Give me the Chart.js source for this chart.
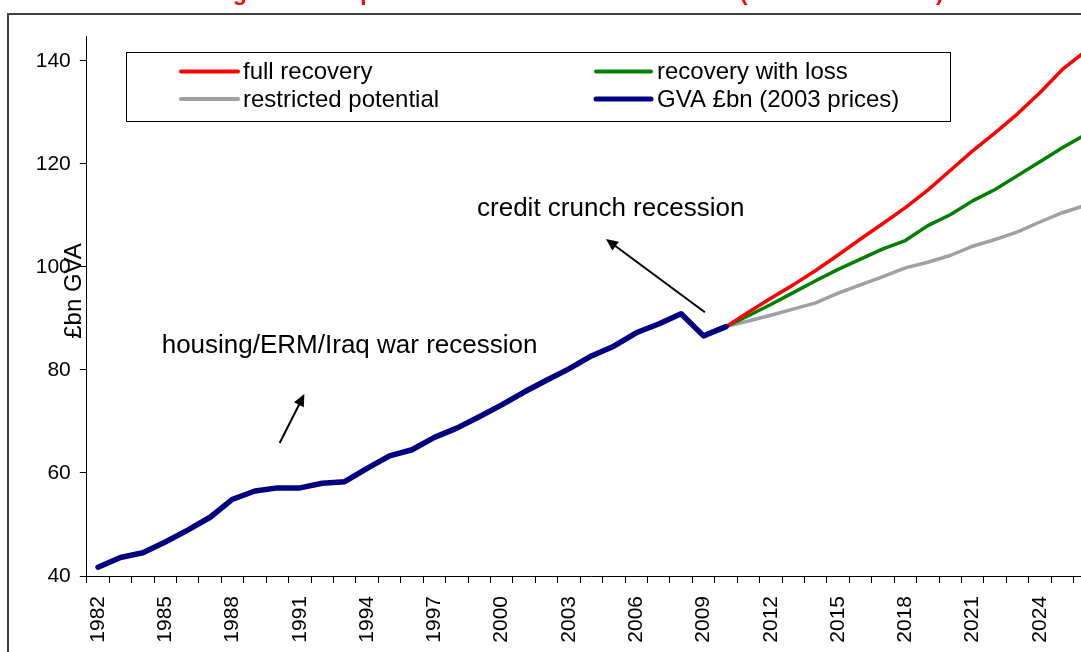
<!DOCTYPE html>
<html><head><meta charset="utf-8">
<script src="https://cdn.jsdelivr.net/npm/chart.js@4.4.1/dist/chart.umd.min.js"></script>
<style>
html,body{margin:0;padding:0;background:#fff;overflow:hidden;width:1081px;height:652px}
#wrap{position:absolute;left:0;top:0;width:1120px;height:652px}
</style></head><body><div id="wrap"><canvas id="c" width="1120" height="652"></canvas></div>
<script>
// ---------- data ----------
const years = [1982,1983,1984,1985,1986,1987,1988,1989,1990,1991,1992,1993,1994,1995,1996,1997,1998,1999,2000,2001,2002,2003,2004,2005,2006,2007,2008,2009,2010,2011,2012,2013,2014,2015,2016,2017,2018,2019,2020,2021,2022,2023,2024,2025,2026];
const gvaActual = [41.7,43.6,44.5,46.6,48.9,51.4,54.9,56.5,57.1,57.1,58.0,58.3,60.9,63.3,64.5,66.9,68.7,70.9,73.2,75.7,78.0,80.2,82.7,84.6,87.2,88.9,90.9,86.6,88.4,
  null,null,null,null,null,null,null,null,null,null,null,null,null,null,null,null];
const fullRecovery = [null,null,null,null,null,null,null,null,null,null,null,null,null,null,null,null,null,null,null,null,null,null,null,null,null,null,null,null,
  88.4,91.2,93.9,96.5,99.3,102.3,105.4,108.4,111.5,114.9,118.7,122.5,126.0,129.7,133.8,138.3,141.7];
const recoveryWithLoss = [null,null,null,null,null,null,null,null,null,null,null,null,null,null,null,null,null,null,null,null,null,null,null,null,null,null,null,null,
  88.4,90.5,92.7,95.0,97.3,99.5,101.5,103.5,105.1,108.0,110.1,112.8,115.0,117.7,120.4,123.1,125.6];
const restrictedPotential = [null,null,null,null,null,null,null,null,null,null,null,null,null,null,null,null,null,null,null,null,null,null,null,null,null,null,null,null,
  88.4,89.5,90.6,91.8,93.0,94.9,96.5,98.1,99.8,100.9,102.2,104.0,105.3,106.8,108.7,110.5,111.9];
const yTicks = [40,60,80,100,120,140];
const seriesLabels = ['GVA £bn (2003 prices)','full recovery','recovery with loss','restricted potential'];
const titleText = 'Economic growth and potential after the recent recession (scenarios to 2026)';
const yAxisTitle = '£bn GVA';
const noteCredit = 'credit crunch recession';
const noteHousing = 'housing/ERM/Iraq war recession';

// ---------- styling / layout ----------
const FONT = '"Liberation Sans", Arial, sans-serif';
const cfgNotes = [
  {text: noteCredit, year: 1998.9, value: 109.8, arrow: {from:[2009.06, 91.2], to:[2004.65, 105.4]}},
  {text: noteHousing, year: 1984.84, value: 83.3, arrow: {from:[1990.1, 65.8], to:[1991.2, 75.3]}}
];
const legendLayout = {
  box: [126.5, 52.5, 824, 69],
  items: [ // dataset index, line x0, line x1, text x, y
    {ds:1, x0:181, x1:238, tx:243, y:71.5},
    {ds:2, x0:596, x1:651, tx:657, y:71.5},
    {ds:3, x0:181, x1:238, tx:243, y:99},
    {ds:0, x0:596, x1:651, tx:657, y:99}
  ]
};

const decorPlugin = {
  id: 'decor',
  beforeDraw(chart) {
    const ctx = chart.ctx;
    ctx.save();
    ctx.fillStyle = '#fff';
    ctx.fillRect(0, 0, chart.width, chart.height);
    // outer frame
    ctx.strokeStyle = '#404040';
    ctx.lineWidth = 2;
    ctx.beginPath();
    ctx.moveTo(8, chart.height + 5);
    ctx.lineTo(8, 14);
    ctx.lineTo(chart.width + 5, 14);
    ctx.stroke();
    // title (mostly cut off at top)
    let fs = 21;
    ctx.font = 'bold ' + fs + 'px ' + FONT;
    const gi = titleText.indexOf('growth');
    const pi = titleText.indexOf('(');
    const span = ctx.measureText(titleText.slice(gi, pi)).width;
    fs = fs * (741 - 234) / span;
    ctx.font = 'bold ' + fs.toFixed(2) + 'px ' + FONT;
    const pre = ctx.measureText(titleText.slice(0, gi)).width;
    ctx.fillStyle = '#ff0000';
    ctx.textBaseline = 'alphabetic';
    ctx.textAlign = 'left';
    ctx.fillText(titleText, 233 - pre, -0.5);
    ctx.restore();
  },
  afterDatasetsDraw(chart) {
    const ctx = chart.ctx;
    const xs = chart.scales.x, ys = chart.scales.y;
    const px = (yr) => xs.getPixelForValue(yr - years[0]);
    const py = (v) => ys.getPixelForValue(v);
    ctx.save();
    // annotations
    ctx.fillStyle = '#000';
    ctx.font = '26px ' + FONT;
    ctx.textAlign = 'left';
    ctx.textBaseline = 'alphabetic';
    cfgNotes.forEach(n => {
      ctx.fillText(n.text, px(n.year), py(n.value));
      const x0 = px(n.arrow.from[0]), y0 = py(n.arrow.from[1]);
      const x1 = px(n.arrow.to[0]), y1 = py(n.arrow.to[1]);
      const ang = Math.atan2(y1 - y0, x1 - x0);
      const hl = 12, hw = 5.5;
      ctx.strokeStyle = '#000';
      ctx.lineWidth = 2;
      ctx.beginPath();
      ctx.moveTo(x0, y0);
      ctx.lineTo(x1 - Math.cos(ang) * hl * 0.8, y1 - Math.sin(ang) * hl * 0.8);
      ctx.stroke();
      ctx.beginPath();
      ctx.moveTo(x1, y1);
      ctx.lineTo(x1 - Math.cos(ang) * hl - Math.sin(ang) * hw, y1 - Math.sin(ang) * hl + Math.cos(ang) * hw);
      ctx.lineTo(x1 - Math.cos(ang) * hl + Math.sin(ang) * hw, y1 - Math.sin(ang) * hl - Math.cos(ang) * hw);
      ctx.closePath();
      ctx.fill();
    });
    // y axis title
    ctx.save();
    ctx.translate(74, 291);
    ctx.rotate(-Math.PI / 2);
    ctx.font = '24px ' + FONT;
    ctx.textAlign = 'center';
    ctx.textBaseline = 'middle';
    ctx.fillText(yAxisTitle, 0, 0);
    ctx.restore();
    // legend box
    const b = legendLayout.box;
    ctx.fillStyle = '#fff';
    ctx.fillRect(b[0], b[1], b[2], b[3]);
    ctx.strokeStyle = '#000';
    ctx.lineWidth = 1;
    ctx.strokeRect(b[0], b[1], b[2], b[3]);
    ctx.font = '24px ' + FONT;
    ctx.textBaseline = 'middle';
    legendLayout.items.forEach(it => {
      const ds = chart.data.datasets[it.ds];
      ctx.strokeStyle = ds.borderColor;
      ctx.lineWidth = it.ds === 0 ? 5 : 4;
      ctx.lineCap = 'round';
      ctx.beginPath();
      ctx.moveTo(it.x0, it.y);
      ctx.lineTo(it.x1, it.y);
      ctx.stroke();
      ctx.fillStyle = '#000';
      ctx.fillText(ds.label, it.tx, it.y + 1);
    });
    ctx.restore();
  }
};

new Chart(document.getElementById('c'), {
  type: 'line',
  data: {
    labels: years.map(String),
    datasets: [
      {label: seriesLabels[0], data: gvaActual, borderColor: '#000080', borderWidth: 5.5, order: 0},
      {label: seriesLabels[1], data: fullRecovery, borderColor: '#ff0000', borderWidth: 3.5, order: 1},
      {label: seriesLabels[2], data: recoveryWithLoss, borderColor: '#008000', borderWidth: 3.5, order: 2},
      {label: seriesLabels[3], data: restrictedPotential, borderColor: '#a0a0a0', borderWidth: 3.5, order: 3}
    ]
  },
  options: {
    responsive: false,
    animation: false,
    layout: {padding: {left: 0, top: 36, right: 24, bottom: 0}},
    plugins: {legend: {display: false}, tooltip: {enabled: false}, title: {display: false}},
    elements: {point: {radius: 0}, line: {tension: 0, borderCapStyle: 'round', borderJoinStyle: 'round'}},
    scales: {
      x: {
        type: 'category',
        offset: true,
        grid: {offset: true, drawOnChartArea: false, color: '#000', tickLength: 7, tickWidth: 1},
        border: {color: '#000', width: 1},
        ticks: {
          autoSkip: false, maxRotation: 90, minRotation: 90, padding: 13, color: '#000',
          font: {family: FONT, size: 21},
          callback: (v, i) => ((years[i] - years[0]) % 3 === 0 ? String(years[i]) : '')
        },
        afterFit: (s) => { s.height = 76; s.paddingLeft = 0; s.paddingRight = 0; }
      },
      y: {
        min: 40, max: 144.8,
        grid: {drawOnChartArea: false, color: '#000', tickLength: 7},
        border: {color: '#000', width: 1},
        ticks: {padding: 9, color: '#000', font: {family: FONT, size: 21}},
        afterBuildTicks: (s) => { s.ticks = yTicks.map(v => ({value: v})); },
        afterFit: (s) => { s.width = 86.8; s.paddingTop = 0; s.paddingBottom = 0; }
      }
    }
  },
  plugins: [decorPlugin]
});
</script>
</body></html>
